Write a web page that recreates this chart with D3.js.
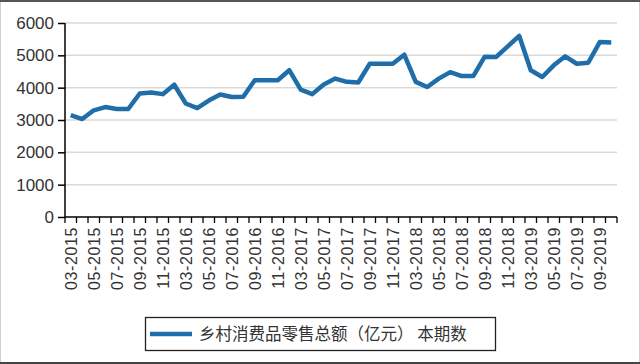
<!DOCTYPE html>
<html>
<head>
<meta charset="UTF-8">
<title></title>
<script src="https://cdn.jsdelivr.net/npm/d3@7/dist/d3.min.js"></script>
<style>
    *{margin:0;padding:0;}
    body{background:#fff;}
</style>
</head>
<body>
<div id="mychart" style="width:640px;height:364px;"></div>
<script>
    // 月份（每年3-12月，1-2月无单独数据）
    var months = [];
    [2015,2016,2017,2018,2019].forEach(function(y){
        for(var m=3;m<=12;m++){
            if(y==2019 && m>10) break;
            months.push((m<10?"0"+m:""+m)+"-"+y);
        }
    });
    // 本期数（亿元）
    var values = [3150,3030,3300,3400,3340,3340,3820,3850,3800,4090,
                  3510,3370,3600,3790,3710,3720,4230,4230,4230,4540,
                  3940,3800,4100,4280,4180,4160,4740,4740,4740,5020,
                  4180,4020,4280,4480,4360,4360,4960,4950,5280,5600,
                  4540,4330,4690,4970,4740,4770,5410,5400];
    var yticks = [0,1000,2000,3000,4000,5000,6000];
    var legendLabel = "乡村消费品零售总额（亿元） 本期数";

    var W=640,H=364;
    var pLeft=65,pRight=617,pTop=23,pBottom=217;
    var svg=d3.select("#mychart").append("svg").attr("width",W).attr("height",H);

    // 外框
    svg.append("rect").attr("x",0.5).attr("y",0.5).attr("width",W-1).attr("height",H-1)
        .attr("fill","#fff").attr("stroke","#d0d0d0");
    svg.append("line").attr("x1",0).attr("x2",W).attr("y1",1).attr("y2",1).attr("stroke","#555").attr("stroke-width",2);
    svg.append("line").attr("x1",0).attr("x2",W).attr("y1",H-1).attr("y2",H-1).attr("stroke","#444").attr("stroke-width",2);

    var xscale=d3.scaleBand().domain(months).range([pLeft,pRight]).padding(0);
    var yscale=d3.scaleLinear().domain([0,6000]).range([pBottom,pTop]);

    // 网格线
    svg.append("g").selectAll("line").data(yticks.filter(function(d){return d>0;})).enter()
        .append("line")
        .attr("x1",pLeft).attr("x2",pRight)
        .attr("y1",function(d){return yscale(d);}).attr("y2",function(d){return yscale(d);})
        .attr("stroke","#d9d9d9").attr("stroke-width",1.5);

    // y轴
    var gy=svg.append("g").attr("transform","translate("+pLeft+",0)");
    d3.axisLeft(yscale).tickValues(yticks).tickFormat(d3.format("d")).tickSize(7).tickPadding(4)(gy);
    gy.selectAll("path,line").attr("stroke","#000").attr("stroke-width",1.5);
    gy.selectAll("text").attr("fill","#333").style("font-family","Liberation Sans, Arial").style("font-size","17px");
    gy.select(".domain").attr("d","M0,"+pTop+"V"+pBottom);

    // x轴
    var gx=svg.append("g").attr("transform","translate(0,"+pBottom+")");
    gx.append("line").attr("x1",pLeft).attr("x2",pRight).attr("stroke","#000").attr("stroke-width",1.5);
    var bounds=months.map(function(d){return xscale(d);}).concat([pRight]);
    gx.selectAll("line.tk").data(bounds).enter().append("line").attr("class","tk")
        .attr("x1",function(d){return d;}).attr("x2",function(d){return d;})
        .attr("y1",0).attr("y2",6).attr("stroke","#000").attr("stroke-width",1.3);
    gx.selectAll("text").data(months.filter(function(d,i){return i%2==0;})).enter()
        .append("text")
        .attr("transform",function(d){
            return "translate("+(xscale(d)+xscale.bandwidth()/2+6)+",10) rotate(-90)";
        })
        .attr("text-anchor","end")
        .style("font-family","Liberation Sans, Arial")
        .style("font-size","16px")
        .style("letter-spacing","0.6px")
        .attr("fill","#333")
        .text(function(d){return d;});

    // 折线
    var line=d3.line()
        .x(function(d,i){return xscale(months[i])+xscale.bandwidth()/2;})
        .y(function(d){return yscale(d);});
    svg.append("path").attr("d",line(values))
        .attr("fill","none").attr("stroke","#1f6eaa").attr("stroke-width",4.5)
        .attr("stroke-linejoin","round");

    // 图例
    var lg=svg.append("g");
    lg.append("rect").attr("x",145.5).attr("y",317.5).attr("width",350).attr("height",33)
        .attr("fill","#fff").attr("stroke","#222").attr("stroke-width",1.3);
    lg.append("line").attr("x1",150).attr("x2",192).attr("y1",334).attr("y2",334)
        .attr("stroke","#1f6eaa").attr("stroke-width",4.5);
    lg.append("text").attr("x",199).attr("y",340)
        .style("font-family","Noto Sans CJK SC").style("font-size","16.5px").attr("fill","#333")
        .text(legendLabel);
</script>
</body>
</html>
